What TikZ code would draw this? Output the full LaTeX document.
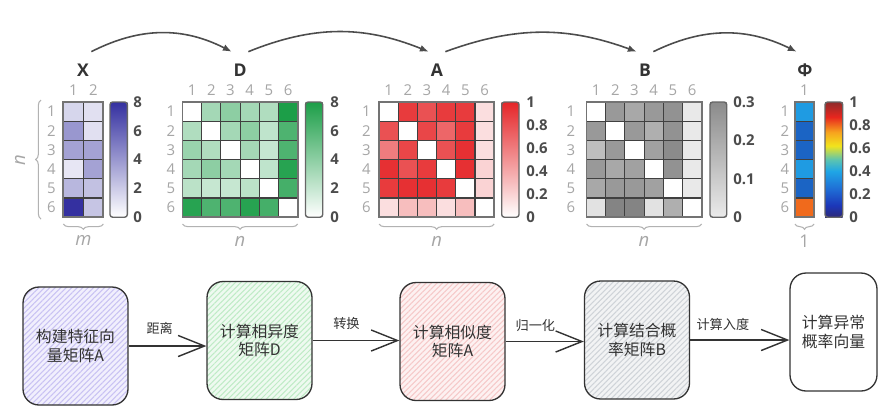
\documentclass[tikz,border=0pt]{standalone}
\usepackage{fontspec}
\setmainfont{Open Sans}
\newfontfamily\cjk{Noto Sans CJK SC}
\usetikzlibrary{arrows.meta,decorations.pathreplacing,patterns.meta}
\definecolor{XPurple}{HTML}{3430A0}
\definecolor{DGreen}{HTML}{1C9E48}
\definecolor{ARed}{HTML}{E52528}
\definecolor{BGray}{HTML}{6E6E6E}
\definecolor{PhiL}{HTML}{1F9BE2}
\definecolor{PhiD}{HTML}{1B64C4}
\definecolor{PhiO}{HTML}{F06A1C}
\definecolor{Jet0}{HTML}{2E2A78}
\definecolor{Jet1}{HTML}{1C36B8}
\definecolor{Jet2}{HTML}{1F6FD6}
\definecolor{Jet3}{HTML}{1FA6E6}
\definecolor{Jet4}{HTML}{5CC4B0}
\definecolor{Jet5}{HTML}{F2E41C}
\definecolor{Jet6}{HTML}{F7A21E}
\definecolor{Jet7}{HTML}{E8261E}
\definecolor{Jet8}{HTML}{8E2B2B}
\definecolor{LavLine}{HTML}{C9C2F3}
\definecolor{LavFill}{HTML}{F1EFFD}
\definecolor{GrnLine}{HTML}{BFEBC6}
\definecolor{GrnFill}{HTML}{EEFAF0}
\definecolor{PnkLine}{HTML}{F6C9C9}
\definecolor{PnkFill}{HTML}{FDF1F1}
\definecolor{GryLine}{HTML}{CFD3D8}
\definecolor{GryFill}{HTML}{F2F3F4}
\pgfdeclareverticalshading{jet}{100bp}{color(0bp)=(Jet0); color(25bp)=(Jet0);
  color(30bp)=(Jet1); color(37.5bp)=(Jet2); color(45bp)=(Jet3); color(50bp)=(Jet4);
  color(56bp)=(Jet5); color(62bp)=(Jet6); color(68.5bp)=(Jet7); color(75bp)=(Jet8);
  color(100bp)=(Jet8)}
\tikzset{
  cell/.style={draw=black!75,line width=0.6pt},
  frame/.style={draw=black!55,line width=1pt},
  cbar/.style={draw=black!60,line width=0.8pt,rounded corners=1.5pt},
  idx/.style={text=black!35,font=\fontsize{8.5}{8.5}\selectfont,inner sep=0pt},
  tick/.style={anchor=west,text=black!70,font=\bfseries\fontsize{8.5}{8.5}\selectfont,inner sep=0pt},
  ttl/.style={text=black!80,font=\bfseries\fontsize{10}{10}\selectfont,minimum width=0.32cm,minimum height=0.72cm,inner sep=0pt},
  dim/.style={text=black!35,font=\itshape\fontsize{10.5}{10.5}\selectfont,inner sep=0pt},
  brc/.style={draw=black!30,line width=0.6pt,decorate,decoration={brace,amplitude=3pt}},
  jump/.style={-{Latex[length=5pt,width=4pt]},draw=black!70,line width=0.9pt},
  stepbox/.style={draw=black!80,line width=0.75pt,rounded corners=0.32cm,minimum width=2.1cm,minimum height=2.36cm,align=center,text=black!80,font=\cjk\fontsize{9}{10.5}\selectfont},
  hatch/.style 2 args={preaction={fill=#1},preaction={pattern={Lines[angle=45,distance=2.2pt,line width=0.6pt]},pattern color=#2}},
  flow/.style={-{Straight Barb[length=15pt,width=12pt]},draw=black!80,line width=0.8pt},
  elabel/.style={font=\cjk\fontsize{7.5}{7.5}\selectfont,text=black!80,inner sep=1pt}
}
\begin{document}
\begin{tikzpicture}[x=0.02cm,y=-0.02cm]
    \fill[white] (0,0) rectangle (891,414);
    % titles and the jumps between them
    \node[ttl] (tX) at (83,70) {X};
    \node[ttl] (tD) at (240,70) {D};
    \node[ttl] (tA) at (437,70) {A};
    \node[ttl] (tB) at (645,70) {B};
    \node[ttl] (tP) at (805,70) {Φ};
    \draw[jump] (tX.north east) to[bend left=27] (tD.north west);
    \draw[jump] (tD.north east) to[bend left=22] (tA.north west);
    \draw[jump] (tA.north east) to[bend left=20] (tB.north west);
    \draw[jump] (tB.north east) to[bend left=26] (tP.north west);

    % X
    \foreach \vals [count=\r] in {{20,15},{50,15},{45,45},{12,45},{35,30},{100,28}}
      \foreach \v [count=\c] in \vals
        \draw[cell,fill=XPurple!\v] ({63.3+(\c-1)*20},{102+(\r-1)*19.2}) rectangle ++(20,19.2);
    \draw[frame] (63.3,102) rectangle (103.3,217.2);
    \foreach \c in {1,2} \node[idx] (xc\c) at ({63.3+(\c-0.5)*20},90) {\c};
    \foreach \r in {1,...,6} \node[idx] (xr\r) at (51.5,{102+(\r-0.5)*19.2}) {\r};
    \shade[top color=XPurple,bottom color=white] (110,102) rectangle (127.3,217.2);
    \draw[cbar] (110,102) rectangle (127.3,217.2);
    \foreach \t [count=\i from 0] in {8,6,4,2,0} \node[tick] (xt\i) at (133,{102+\i*28.8}) {\t};
    \draw[brc] (41,219) -- (41,100);
    \node[dim,rotate=90] (xn) at (20,160) {n};
    \draw[brc] (103.3,224) -- (63.3,224);
    \node[dim] (xm) at (83.3,240) {m};

    % D
    \foreach \vals [count=\r] in {{0,40,50,40,35,100},{35,0,40,50,28,78},{45,35,0,40,25,78},{40,50,40,0,28,95},{30,25,25,30,0,82},{95,78,78,95,82,0}}
      \foreach \v [count=\c] in \vals
        \draw[cell,fill=DGreen!\v] ({182.5+(\c-1)*19.2},{102+(\r-1)*19.2}) rectangle ++(19.2,19.2);
    \draw[frame] (182.5,102) rectangle (297.7,217.2);
    \foreach \c in {1,...,6} \node[idx] (dc\c) at ({182.5+(\c-0.5)*19.2},90) {\c};
    \foreach \r in {1,...,6} \node[idx] (dr\r) at (171,{102+(\r-0.5)*19.2}) {\r};
    \shade[top color=DGreen,bottom color=white] (305.5,102) rectangle (322.7,217.2);
    \draw[cbar] (305.5,102) rectangle (322.7,217.2);
    \foreach \t [count=\i from 0] in {8,6,4,2,0} \node[tick] (dt\i) at (330,{102+\i*28.8}) {\t};
    \draw[brc] (297.7,224) -- (182.5,224);
    \node[dim] (dn) at (240,241) {n};

    % A
    \foreach \vals [count=\r] in {{0,90,80,90,90,15},{80,0,85,70,90,15},{60,85,0,80,95,15},{95,80,90,0,95,20},{90,95,95,90,0,20},{15,30,30,15,30,0}}
      \foreach \v [count=\c] in \vals
        \draw[cell,fill=ARed!\v] ({379+(\c-1)*19.2},{102+(\r-1)*19.2}) rectangle ++(19.2,19.2);
    \draw[frame] (379,102) rectangle (494.2,217.2);
    \foreach \c in {1,...,6} \node[idx] (ac\c) at ({379+(\c-0.5)*19.2},90) {\c};
    \foreach \r in {1,...,6} \node[idx] (ar\r) at (366.5,{102+(\r-0.5)*19.2}) {\r};
    \shade[top color=ARed,bottom color=white] (501.7,102) rectangle (519,217.2);
    \draw[cbar] (501.7,102) rectangle (519,217.2);
    \foreach \t [count=\i from 0] in {1,0.8,0.6,0.4,0.2,0} \node[tick] (at\i) at (526,{102+\i*23.04}) {\t};
    \draw[brc] (494.2,224) -- (379,224);
    \node[dim] (an) at (436.6,241) {n};

    % B
    \foreach \vals [count=\r] in {{0,70,60,70,75,15},{70,0,70,55,75,15},{45,70,0,65,80,15},{70,60,65,0,75,15},{60,70,70,65,0,15},{20,85,85,20,55,0}}
      \foreach \v [count=\c] in \vals
        \draw[cell,fill=BGray!\v] ({586.5+(\c-1)*19.2},{102+(\r-1)*19.2}) rectangle ++(19.2,19.2);
    \draw[frame] (586.5,102) rectangle (701.7,217.2);
    \foreach \c in {1,...,6} \node[idx] (bc\c) at ({586.5+(\c-0.5)*19.2},90) {\c};
    \foreach \r in {1,...,6} \node[idx] (br\r) at (571,{102+(\r-0.5)*19.2}) {\r};
    \shade[top color=BGray!80,bottom color=black!8] (710,102) rectangle (726.7,217.2);
    \draw[cbar] (710,102) rectangle (726.7,217.2);
    \foreach \t [count=\i from 0] in {0.3,0.2,0.1,0} \node[tick] (bt\i) at (733,{102+\i*38.4}) {\t};
    \draw[brc] (701.7,224) -- (586.5,224);
    \node[dim] (bn) at (644,241) {n};

    % Phi
    \foreach \col [count=\r] in {PhiL,PhiD,PhiD,PhiL,PhiD,PhiO}
      \draw[cell,fill=\col] (795,{102+(\r-1)*19.2}) rectangle ++(19,19.2);
    \draw[frame] (795,102) rectangle (814,217.2);
    \node[idx] (pc1) at (804.5,90) {1};
    \foreach \r in {1,...,6} \node[idx] (pr\r) at (785,{102+(\r-0.5)*19.2}) {\r};
    \shade[shading=jet] (825,102) rectangle (842.7,217.2);
    \draw[cbar] (825,102) rectangle (842.7,217.2);
    \foreach \t [count=\i from 0] in {1,0.8,0.6,0.4,0.2,0} \node[tick] (pt\i) at (849,{102+\i*23.04}) {\t};
    \draw[brc] (814,224) -- (795,224);
    \node[idx,font=\fontsize{10}{10}\selectfont] (p1) at (804.5,241) {1};

    % steps
    \node[stepbox,hatch={LavFill}{LavLine}] (b1) at (75.5,346) {构建特征向\\量矩阵A};
    \node[stepbox,hatch={GrnFill}{GrnLine}] (b2) at (259.5,340.5) {计算相异度\\矩阵D};
    \node[stepbox,hatch={PnkFill}{PnkLine}] (b3) at (452.5,341.5) {计算相似度\\矩阵A};
    \node[stepbox,hatch={GryFill}{GryLine}] (b4) at (637,340) {计算结合概\\率矩阵B};
    \node[stepbox,minimum width=1.74cm] (b5) at (833.5,332) {计算异常\\概率向量};
    \draw[flow] (b1.east) -- (b1.east -| b2.west) node[elabel,pos=0.4,above=5pt] (l1) {距离};
    \draw[flow] (b2.east) -- (b2.east -| b3.west) node[elabel,pos=0.39,above=5pt] (l2) {转换};
    \draw[flow] (b3.east) -- (b3.east -| b4.west) node[elabel,pos=0.38,above=4pt] (l3) {归一化};
    \draw[flow] (b4.east) -- (b4.east -| b5.west) node[elabel,pos=0.33,above=4pt] (l4) {计算入度};
  \end{tikzpicture}
\end{document}
